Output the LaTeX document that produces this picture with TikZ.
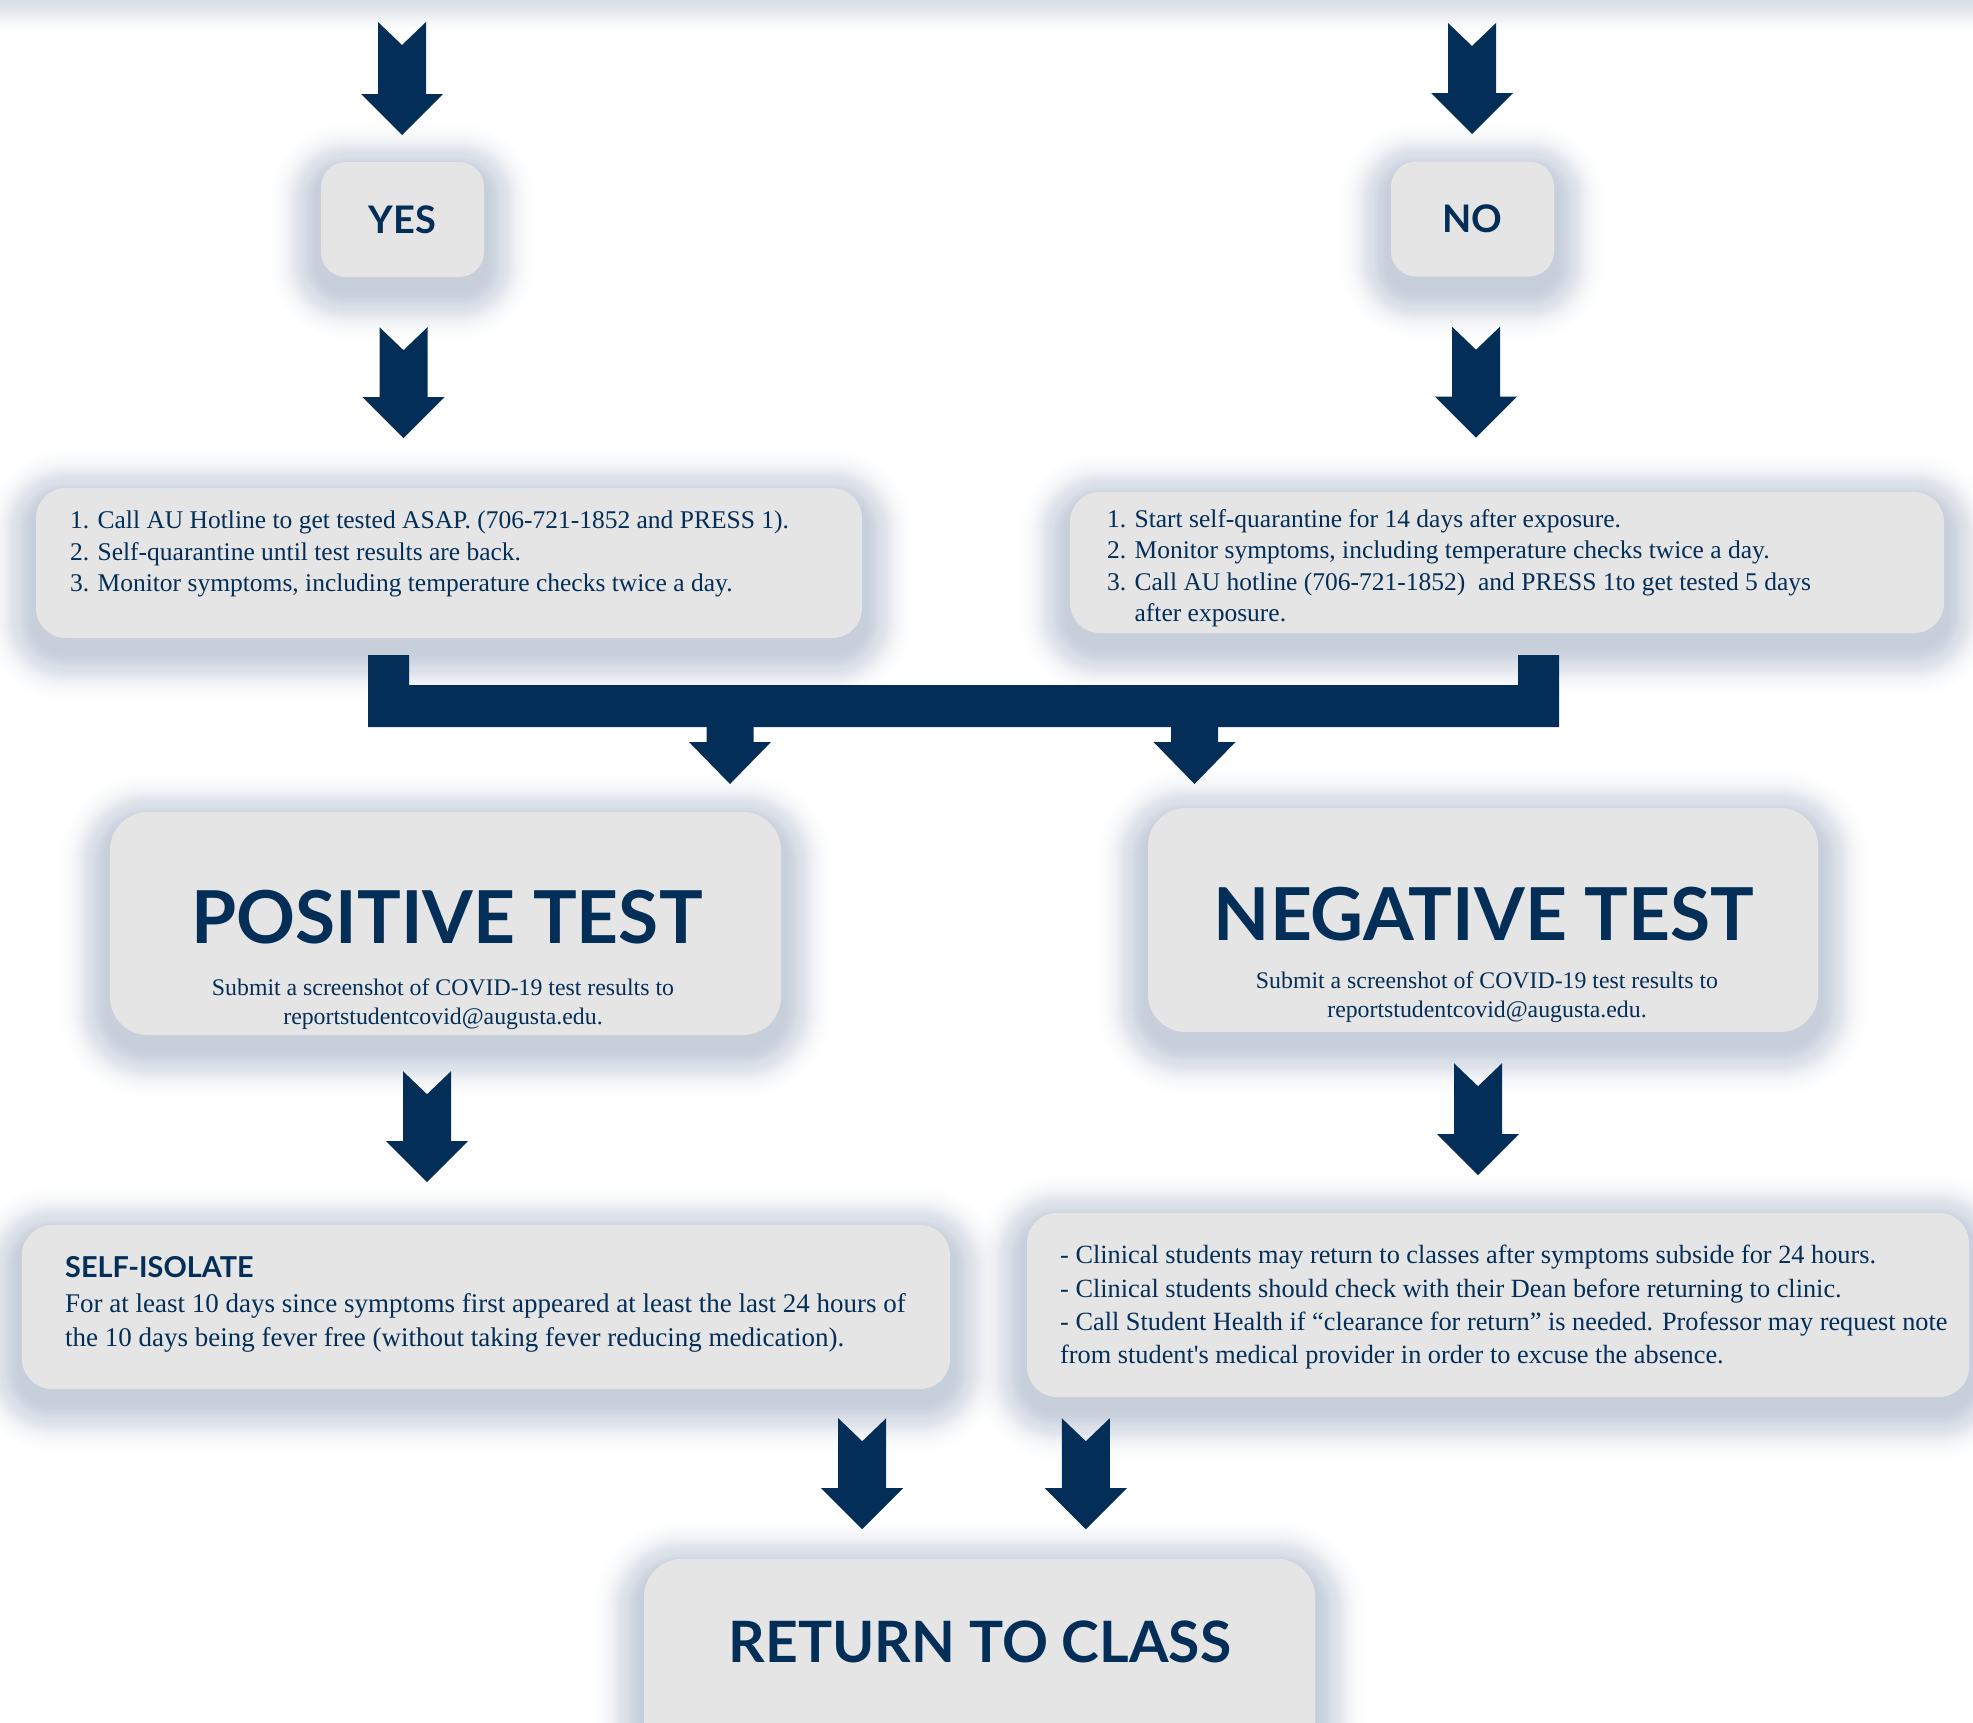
\documentclass[tikz,border=0pt]{standalone}
\usepackage{fontspec}
\setmainfont{Liberation Serif}
\setsansfont{Lato}
\usetikzlibrary{backgrounds}
\definecolor{aunavy}{RGB}{3,46,87}
\definecolor{tilegray}{RGB}{229,229,230}
\definecolor{glowblue}{RGB}{140,156,182}

% block arrow with a notched tail: top point, length
\newcommand\blockarrow[2]{%
  \path #1 coordinate (arrtop);
  \fill[aunavy] ([xshift=-24pt]arrtop) -- ++(24,23) -- ++(24,-23) -- ++(0,{#2-41})
    -- ++(17,0) -- ++(-41,41) -- ++(-41,-41) -- ++(17,0) -- cycle;}

% soft glow behind a tile: node, corner radius
\newcommand\glowtile[2]{%
  \foreach \r in {1,...,58}{%
    \pgfmathsetmacro\rc{#2+\r}
    \pgfmathsetmacro\op{0.62*\r/361*exp(-\r*\r/722)}
    \fill[glowblue, opacity=\op, rounded corners=\rc pt]
      ([shift={(-\r,{12-\r})}]#1.north west) rectangle ([shift={(\r,{12+\r})}]#1.south east);}}

\begin{document}
\begin{tikzpicture}[x=1pt, y=-1pt,
    tile/.style={fill=tilegray, rounded corners=#1, inner sep=0pt},
    tile/.default=30pt,
    bodytext/.style={text=aunavy, font=\fontsize{25.5}{31.5}\selectfont, align=left, inner sep=0pt, anchor=north west},
    subtext/.style={text=aunavy, font=\fontsize{23.8}{29}\selectfont, align=center, inner sep=0pt, anchor=north},
    bigtitle/.style={text=aunavy, font=\sffamily\bfseries\fontsize{73}{73}\selectfont, inner sep=0pt, anchor=base}]
  \useasboundingbox (0,0) rectangle (1973,1722);
  \shade [top color=glowblue!35, bottom color=white] (0,0) rectangle (1973,30);

  \node [tile=25pt, minimum width=163pt, minimum height=115pt, text=aunavy, font=\sffamily\bfseries\fontsize{38}{38}\selectfont] (yes) at (402.5,219.5) {YES};
  \node [tile=25pt, minimum width=163pt, minimum height=115pt, text=aunavy, font=\sffamily\bfseries\fontsize{38}{38}\selectfont] (no) at (1472.5,219) {NO};

  \node [tile, minimum width=826pt, minimum height=150pt] (list1) at (449,563) {};
  \node [tile, minimum width=874pt, minimum height=141pt] (list2) at (1507,562.5) {};
  \node [tile=38pt, minimum width=671pt, minimum height=223pt] (pos) at (445.5,923.5) {};
  \node [tile=38pt, minimum width=670pt, minimum height=224pt] (neg) at (1483,920) {};
  \node [tile, minimum width=928pt, minimum height=164pt] (iso) at (486,1307) {};
  \node [tile, minimum width=942pt, minimum height=184pt] (clin) at (1498,1305) {};
  \node [tile=38pt, minimum width=671pt, minimum height=240pt] (back) at (979.5,1679) {};

  \begin{scope}[on background layer]
    \foreach \n/\c in {yes/25, no/25, list1/30, list2/30, pos/38, neg/38, iso/30, clin/30, back/38}
      {\glowtile{\n}{\c}}
  \end{scope}

  \node [bodytext] (list1txt) at ([shift={(34,23)}]list1.north west)
    {1. Call AU Hotline to get tested ASAP. (706-721-1852 and PRESS 1).\\
     2. Self-quarantine until test results are back.\\
     3. Monitor symptoms, including temperature checks twice a day.};
  \node [bodytext] (list2txt) at ([shift={(37,17.5)}]list2.north west)
    {1. Start self-quarantine for 14 days after exposure.\\
     2. Monitor symptoms, including temperature checks twice a day.\\
     3. Call AU hotline (706-721-1852)~ and PRESS 1to get tested 5 days\\
     \phantom{3. }after exposure.};

  \node [bigtitle] (postitle) at (447,943) {POSITIVE TEST};
  \node [subtext] (possub) at (443,979)
    {Submit a screenshot of COVID-19 test results to\\ reportstudentcovid@augusta.edu.};
  \node [bigtitle] (negtitle) at (1484,940) {NEGATIVE TEST};
  \node [subtext] (negsub) at (1487,972)
    {Submit a screenshot of COVID-19 test results to\\ reportstudentcovid@augusta.edu.};

  \node [text=aunavy, font=\sffamily\bfseries\fontsize{28.8}{28.8}\selectfont, anchor=base west, inner sep=0pt] (isotitle) at (65,1277) {SELF-ISOLATE};
  \node [bodytext, font=\fontsize{27}{34}\selectfont] (isotxt) at (65,1293)
    {For at least 10 days since symptoms first appeared at least the last 24 hours of\\
     the 10 days being fever free (without taking fever reducing medication).};
  \node [bodytext, font=\fontsize{26.3}{33.3}\selectfont] (clintxt) at (1060,1245)
    {- Clinical students may return to classes after symptoms subside for 24 hours.\\
     - Clinical students should check with their Dean before returning to clinic.\\
     - Call Student Health if “clearance for return” is needed. Professor may request note\\
     from student\textquotesingle s medical provider in order to excuse the absence.};
  \node [bigtitle, font=\sffamily\bfseries\fontsize{57}{57}\selectfont] (backtitle) at (980,1662) {RETURN TO CLASS};

  % arrows between the tiles
  \coordinate (yesin) at (402,22);
  \coordinate (noin) at (1472,23);
  \blockarrow{(yesin)}{113}
  \blockarrow{(noin)}{111}
  \blockarrow{([shift={(1,50)}]yes.south)}{111}
  \blockarrow{([shift={(3.5,50)}]no.south)}{111}
  \blockarrow{([shift={(-18.5,36)}]pos.south)}{111}
  \blockarrow{([shift={(-5,31)}]neg.south)}{112}
  \blockarrow{([shift={(-88,29)}]iso.south east)}{111}
  \blockarrow{([shift={(59,21)}]clin.south west)}{111}

  % bracket joining both lists
  \fill [aunavy] (368,655) -- (409,655) -- (409,685) -- (1518,685) -- (1518,655)
    -- (1559,655) -- (1559,727) -- (368,727) -- cycle;
  \foreach \x in {730,1194.5}
    \fill [aunavy] (\x-23.5,720) -- (\x+23.5,720) -- (\x+23.5,742) -- (\x+41,742)
      -- (\x,784) -- (\x-41,742) -- (\x-23.5,742) -- cycle;
\end{tikzpicture}
\end{document}
